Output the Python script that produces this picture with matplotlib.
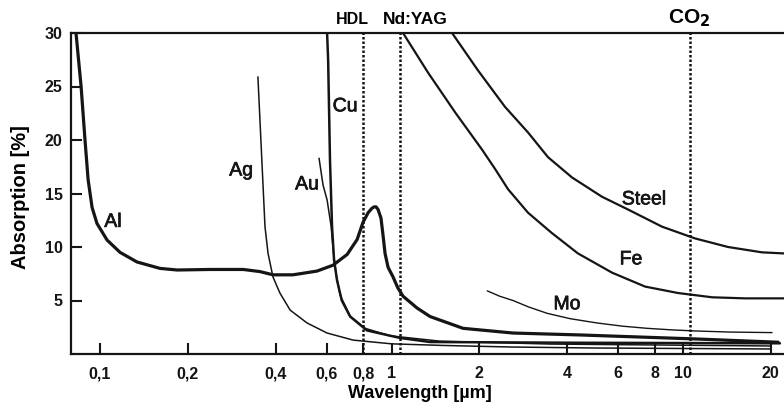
import numpy as np
import matplotlib
matplotlib.use("Agg")
import matplotlib.pyplot as plt
import matplotlib.patheffects as pe

plt.rcParams['font.family'] = ['Liberation Sans', 'DejaVu Sans']

# Absorption curves of metals vs wavelength (µm, %)
al_x = [0.0827, 0.0861, 0.0888, 0.0910, 0.0939, 0.0976, 0.1057, 0.1171, 0.1339, 0.1606,
        0.1838, 0.2385, 0.310, 0.354, 0.392, 0.459, 0.555, 0.630, 0.704, 0.762,
        0.798, 0.831, 0.855, 0.871, 0.885, 0.899, 0.920, 0.935, 0.950, 0.973,
        1.012, 1.05, 1.095, 1.223, 1.356, 1.759, 2.61, 4.43, 11.2, 21.2]
al_y = [30, 25, 20, 16.3, 13.7, 12.2, 10.65, 9.5, 8.6, 8.0,
        7.85, 7.9, 7.9, 7.7, 7.4, 7.4, 7.75, 8.3, 9.3, 10.7,
        12.3, 13.2, 13.6, 13.75, 13.75, 13.5, 12.7, 11.1, 9.4, 8.1,
        7.2, 6.2, 5.4, 4.3, 3.5, 2.4, 1.96, 1.78, 1.4, 1.1]

ag_x = [0.348, 0.359, 0.368, 0.377, 0.392, 0.414, 0.449, 0.513, 0.601, 0.738,
        1.0, 1.5, 2.6, 5.0, 19.9]
ag_y = [25.9, 18.1, 11.9, 9.4, 7.2, 5.7, 4.1, 2.9, 1.96, 1.3,
        0.95, 0.8, 0.65, 0.56, 0.47]

au_x = [0.564, 0.582, 0.601, 0.620, 0.632, 0.645, 0.666, 0.721, 0.811, 0.988,
        1.467, 3.50, 19.9]
au_y = [18.3, 15.8, 14.4, 12.0, 9.5, 7.5, 5.5, 3.55, 2.4, 1.7,
        1.2, 0.93, 0.75]

cu_x = [0.601, 0.606, 0.615, 0.625, 0.635, 0.650, 0.675, 0.721, 0.824, 1.069,
        1.356, 4.43, 21.5]
cu_y = [30, 27.5, 18.1, 11.9, 8.8, 6.9, 5.0, 3.5, 2.2, 1.5,
        1.12, 1.05, 1.0]

fe_x = [1.095, 1.334, 1.651, 2.044, 2.265, 2.51, 2.94, 3.55, 4.36, 5.71,
        7.41, 9.61, 12.58, 16.32, 22.2]
fe_y = [30, 26.3, 22.6, 19.1, 17.3, 15.4, 13.2, 11.3, 9.4, 7.6,
        6.3, 5.7, 5.3, 5.2, 5.2]

steel_x = [1.613, 1.98, 2.45, 2.94, 3.44, 4.16, 5.27, 6.48, 8.47, 11.0,
           14.27, 18.66, 22.2]
steel_y = [30, 26.5, 23.1, 20.7, 18.4, 16.5, 14.7, 13.5, 11.9, 10.8,
           10.0, 9.5, 9.4]

mo_x = [2.13, 2.35, 2.61, 2.95, 3.42, 4.1, 5.07, 6.2, 7.53, 9.2, 11.08, 14.5, 20.2]
mo_y = [5.9, 5.4, 5.0, 4.4, 3.8, 3.3, 2.9, 2.6, 2.4, 2.25, 2.15, 2.05, 2.0]

# laser wavelengths
lasers = ["HDL", "Nd:YAG", "CO$_\\mathbf{2}$"]
laser_wl = [0.80, 1.07, 10.6]

xticks = [0.1, 0.2, 0.4, 0.6, 0.8, 1, 2, 4, 6, 8, 10, 20]
xticklabels = ["0,1", "0,2", "0,4", "0,6", "0,8", "1", "2", "4", "6", "8", "10", "20"]
yticks = [5, 10, 15, 20, 25, 30]

fig = plt.figure(figsize=(7.84, 4.03), dpi=100)
ax = fig.add_axes([71/784, 49/403, 713/784, 321/403])

k = "#151515"
kw = dict(color=k, solid_joinstyle="round", solid_capstyle="round")
ax.plot(al_x, al_y, lw=2.3, **kw)
ax.plot(cu_x, cu_y, lw=1.8, **kw)
ax.plot(au_x, au_y, lw=1.1, **kw)
ax.plot(ag_x, ag_y, lw=1.1, **kw)
ax.plot(fe_x, fe_y, lw=1.6, **kw)
ax.plot(steel_x, steel_y, lw=1.6, **kw)
ax.plot(mo_x, mo_y, lw=1.0, **kw)

for wl in laser_wl:
    ax.axvline(wl, color=k, lw=1.8, ls=(0, (1, 0.8)))

ax.set_xscale("log")
ax.set_xlim(0.0795, 22.2)
ax.set_ylim(0, 30)
ax.minorticks_off()
ax.set_xticks(xticks)
ax.set_xticklabels(xticklabels)
ax.set_yticks(yticks)

for s in ["left", "bottom", "top"]:
    ax.spines[s].set_linewidth(1.6)
    ax.spines[s].set_color(k)
ax.spines["right"].set_visible(False)
ax.tick_params(direction="in", length=8, width=1.5, colors=k)
ax.tick_params(axis="x", pad=9)
ax.tick_params(axis="y", pad=6)
for lab in ax.get_xticklabels() + ax.get_yticklabels():
    lab.set_fontweight("bold")
    lab.set_fontsize(11.5)
    lab.set_family(['Liberation Sans Narrow', 'Liberation Sans'])

ax.set_xlabel("Wavelength [µm]", fontsize=13, fontweight="bold")
ax.set_ylabel("Absorption [%]", fontsize=14.5, fontweight="bold")
ax.xaxis.set_label_coords(0.49, -0.096)
ax.yaxis.set_label_coords(-0.057, 0.49)

# laser names above the frame
ax.text(0.735, 30.55, "HDL", ha="center", va="bottom", fontsize=11.5, fontweight="bold")
ax.text(1.21, 30.55, "Nd:YAG", ha="center", va="bottom", fontsize=12.5, fontweight="bold")
ax.text(10.5, 30.4, lasers[2], ha="center", va="bottom", fontsize=15, fontweight="bold")

# curve names
labels = [("Al", 0.1108, 12.3), ("Ag", 0.305, 17.1), ("Au", 0.513, 15.8),
          ("Cu", 0.693, 23.1), ("Steel", 7.35, 14.4), ("Fe", 6.63, 8.8), ("Mo", 4.0, 4.6)]
for t, x, y in labels:
    ax.text(x, y, t, ha="center", va="center", fontsize=14, color=k,
            path_effects=[pe.withStroke(linewidth=0.5, foreground=k)])

fig.savefig("out.png", dpi=100)
